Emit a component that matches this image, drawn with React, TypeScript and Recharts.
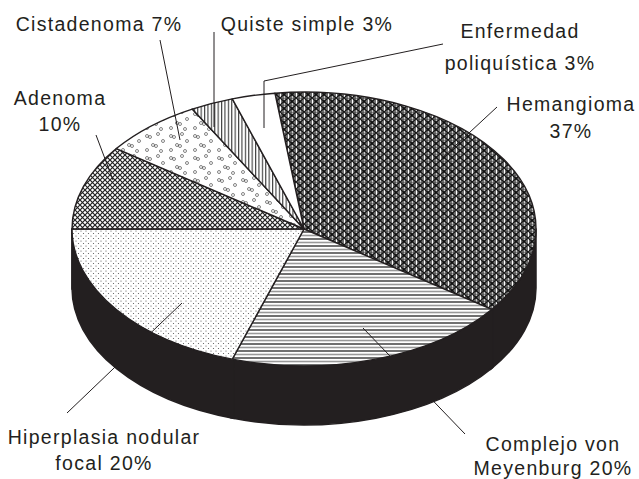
import { PieChart, Pie } from 'recharts';

const categories = [
  'Hemangioma',
  'Complejo von Meyenburg',
  'Hiperplasia nodular focal',
  'Adenoma',
  'Cistadenoma',
  'Quiste simple',
  'Enfermedad poliquística',
];
const percents = [37, 20, 20, 10, 7, 3, 3];
// label text split into lines, percent goes on the last one
const labelLines = [
  ['Hemangioma', ''],
  ['Complejo von', 'Meyenburg'],
  ['Hiperplasia nodular', 'focal'],
  ['Adenoma', ''],
  ['Cistadenoma'],
  ['Quiste simple'],
  ['Enfermedad', 'poliquística'],
];

const data = categories.map((name, i) => ({ name, value: percents[i] }));

// layout only
const CX = 304;
const CY = 229;
const R = 232;
const TILT = 0.59;
const DEPTH = 59;
const INK = '#231f20';

const FILLS = [
  'url(#pHem)',
  'url(#pHoriz)',
  'url(#pDots)',
  'url(#pCross)',
  'url(#pRings)',
  'url(#pVert)',
  '#ffffff',
];

const LABEL_POS = [
  { x: 571, y: 104, gap: 27, leader: [[497, 107], [442, 158]] },
  { x: 553, y: 444, gap: 24, leader: [[465, 434], [363, 328]] },
  { x: 104, y: 437, gap: 26, leader: [[67, 413], [182, 303]] },
  { x: 60, y: 98, gap: 26, leader: [[96, 135], [113, 180]] },
  { x: 99, y: 24, gap: 0, leader: [[160, 40], [180, 140]] },
  { x: 307, y: 24, gap: 0, leader: [[214, 32], [214, 127]] },
  { x: 520, y: 31, gap: 32, leader: [[443, 44], [264, 81], [264, 128]] },
];

function pt(cx: number, cy: number, a: number, r: number, dy = 0) {
  const rad = (a * Math.PI) / 180;
  return [cx + r * Math.cos(rad), cy - r * TILT * Math.sin(rad) + dy];
}

function TopSlice(props: any) {
  const { cx, cy, outerRadius, startAngle, endAngle, index } = props;
  const [x1, y1] = pt(cx, cy, startAngle, outerRadius);
  const [x2, y2] = pt(cx, cy, endAngle, outerRadius);
  const large = Math.abs(startAngle - endAngle) > 180 ? 1 : 0;
  const sweep = startAngle > endAngle ? 1 : 0;
  const d = `M${cx},${cy} L${x1},${y1} A${outerRadius},${outerRadius * TILT} 0 ${large} ${sweep} ${x2},${y2} Z`;
  return <path d={d} fill={FILLS[index]} stroke={INK} strokeWidth={1.4} strokeLinejoin="round" />;
}

// outer wall, only the part facing the viewer
function SideSlice(props: any) {
  const { cx, cy, outerRadius, startAngle, endAngle } = props;
  const lo = Math.min(startAngle, endAngle);
  const hi = Math.max(startAngle, endAngle);
  const parts: number[][] = [];
  for (let k = -2; k <= 1; k++) {
    const a = Math.max(lo - 0.5, -180 + 360 * k);
    const b = Math.min(hi + 0.5, 360 * k);
    if (b > a) parts.push([a, b]);
  }
  const rx = outerRadius;
  const ry = outerRadius * TILT;
  return (
    <g>
      {parts.map(([a, b], j) => {
        const [ax, ay] = pt(cx, cy, a, rx);
        const [bx, by] = pt(cx, cy, b, rx);
        const d = `M${ax},${ay} A${rx},${ry} 0 0 0 ${bx},${by} L${bx},${by + DEPTH} A${rx},${ry} 0 0 1 ${ax},${ay + DEPTH} Z`;
        return <path key={j} d={d} fill={INK} stroke={INK} strokeWidth={1.5} strokeLinejoin="round" />;
      })}
    </g>
  );
}

const renderLabel = (props: any) => {
  const i = props.index;
  const pos = LABEL_POS[i];
  const lines = labelLines[i].slice();
  const last = lines.length - 1;
  lines[last] = lines[last] ? `${lines[last]} ${percents[i]}%` : `${percents[i]}%`;
  return (
    <g key={`lab-${i}`}>
      <polyline
        points={pos.leader.map((p) => p.join(',')).join(' ')}
        fill="none"
        stroke={INK}
        strokeWidth={1}
      />
      {lines.map((t, j) => (
        <text
          key={j}
          x={pos.x}
          y={pos.y + j * pos.gap}
          textAnchor="middle"
          dominantBaseline="central"
          fill={INK}
          fontFamily="'Liberation Sans', Arial, sans-serif"
          fontSize={19.5}
          letterSpacing={1.3}
        >
          {t}
        </text>
      ))}
    </g>
  );
};

function Patterns() {
  return (
    <svg width={0} height={0} style={{ position: 'absolute' }}>
      <defs>
        <pattern id="pHem" width={8} height={7} patternUnits="userSpaceOnUse">
          <rect width={8} height={7} fill="#707070" />
          <line x1={0.5} y1={0} x2={0.5} y2={7} stroke="#fff" strokeWidth={1} />
          <line x1={4.5} y1={0} x2={4.5} y2={7} stroke="#c8c8c8" strokeWidth={1} />
          <path d="M0,0 L8,7 M8,0 L0,7" stroke="#111" strokeWidth={1.1} />
          <path d="M4,1.8 L5.6,3.5 L4,5.2 L2.4,3.5 Z" fill="#111" />
          <line x1={0} y1={0} x2={8} y2={0} stroke="#333" strokeWidth={0.8} />
        </pattern>
        <pattern id="pHoriz" width={8} height={7} patternUnits="userSpaceOnUse">
          <rect width={8} height={7} fill="#fff" />
          <line x1={0} y1={1} x2={8} y2={1} stroke="#222" strokeWidth={1.3} />
          <line x1={0} y1={4.5} x2={8} y2={4.5} stroke="#999" strokeWidth={1.6} />
        </pattern>
        <pattern id="pDots" width={5} height={5} patternUnits="userSpaceOnUse">
          <rect width={5} height={5} fill="#fff" />
          <circle cx={1} cy={1} r={0.6} fill="#555" />
          <circle cx={3.5} cy={3.5} r={0.6} fill="#555" />
        </pattern>
        <pattern id="pCross" width={5} height={5} patternUnits="userSpaceOnUse">
          <rect width={5} height={5} fill="#fff" />
          <path d="M0,0 L5,5 M5,0 L0,5" stroke="#222" strokeWidth={1.2} />
        </pattern>
        <pattern id="pRings" width={24} height={22} patternUnits="userSpaceOnUse">
          <rect width={24} height={22} fill="#fff" />
          {[[3, 4], [6, 5], [14, 2], [19, 9], [9, 13], [12, 14], [3, 18], [17, 19]].map(([x, y], k) => (
            <circle key={k} cx={x} cy={y} r={1.5} fill="none" stroke="#333" strokeWidth={0.6} />
          ))}
        </pattern>
        <pattern id="pVert" width={3.4} height={6} patternUnits="userSpaceOnUse">
          <rect width={3.4} height={6} fill="#fff" />
          <line x1={0.6} y1={0} x2={0.6} y2={6} stroke="#222" strokeWidth={1} />
        </pattern>
      </defs>
    </svg>
  );
}

export default function App() {
  return (
    <div style={{ position: 'absolute', left: 0, top: 0, width: 639, height: 479, background: '#fff' }}>
      <Patterns />
      <PieChart width={639} height={479} margin={{ top: 0, right: 0, bottom: 0, left: 0 }}>
        <Pie
          data={data}
          dataKey="value"
          nameKey="name"
          cx={CX}
          cy={CY}
          outerRadius={R}
          startAngle={97.2}
          endAngle={-262.8}
          shape={SideSlice}
          isAnimationActive={false}
        />
        <Pie
          data={data}
          dataKey="value"
          nameKey="name"
          cx={CX}
          cy={CY}
          outerRadius={R}
          startAngle={97.2}
          endAngle={-262.8}
          shape={TopSlice}
          label={renderLabel}
          labelLine={false}
          isAnimationActive={false}
        />
      </PieChart>
    </div>
  );
}
